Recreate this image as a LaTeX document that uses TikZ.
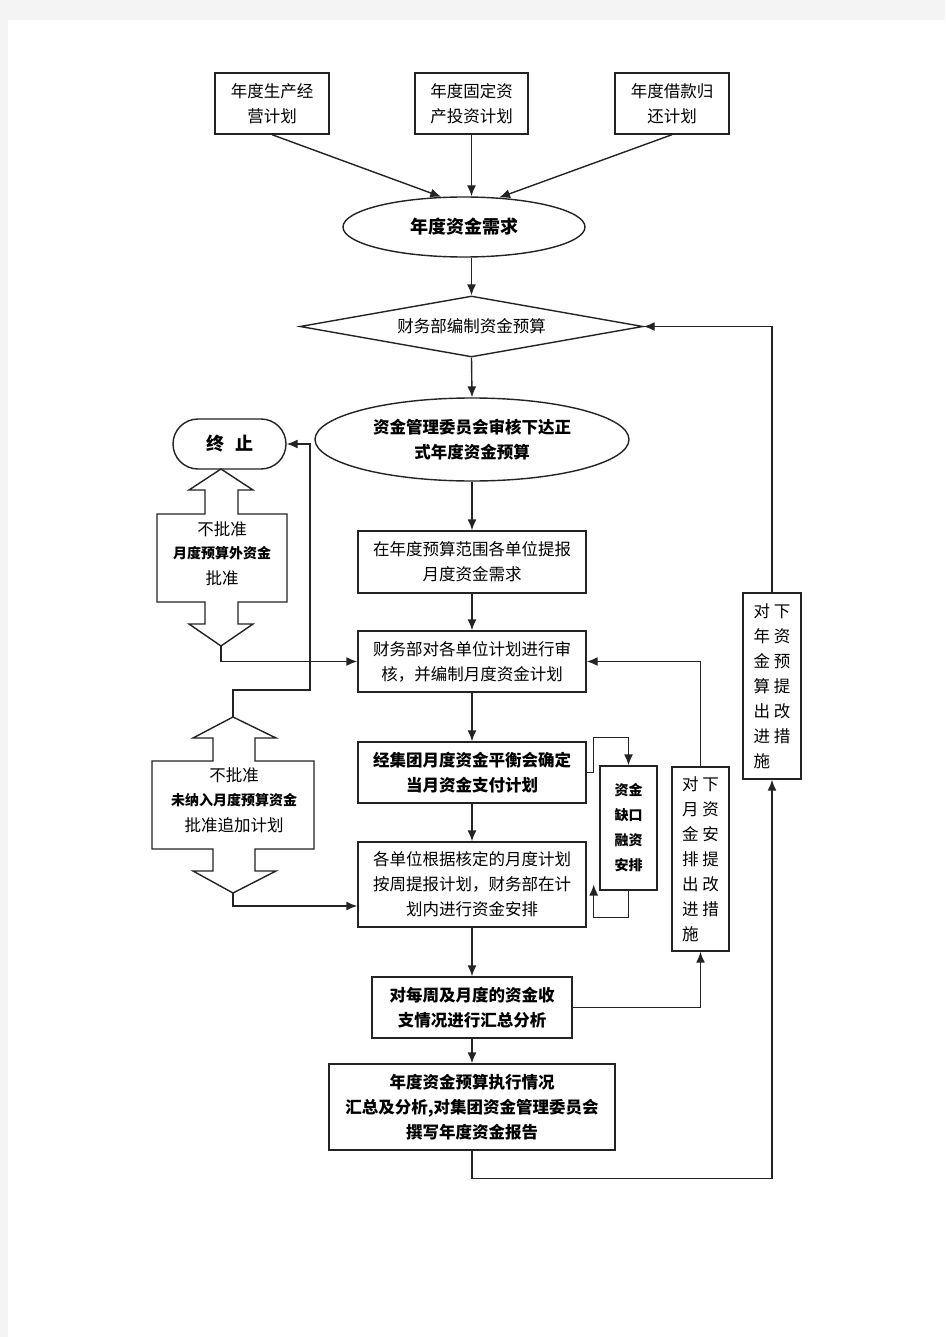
\documentclass[tikz,border=0pt]{standalone}
\usepackage{fontspec}
\setmainfont{Noto Sans CJK SC}
\usetikzlibrary{shapes.geometric,arrows.meta,positioning}
\definecolor{pagegray}{RGB}{244,244,244}
\definecolor{ink}{RGB}{35,35,35}
\newcommand{\bodyfont}{\fontsize{16.5}{25}\selectfont}
\newcommand{\smallbold}{\bfseries\fontsize{14}{25}\selectfont}

\tikzset{
  flowbox/.style={draw=ink,line width=1.4pt,rectangle,inner sep=0pt,align=center,font=\bodyfont},
  boldbox/.style={flowbox,font=\bodyfont\bfseries},
  vbox/.style={flowbox,align=left},
  oval/.style={draw=ink,line width=1.4pt,ellipse,inner sep=0pt,align=center},
  decide/.style={draw=ink,line width=1.4pt,diamond,aspect=5.62,inner sep=0pt,font=\bodyfont},
  stopbox/.style={draw=ink,line width=1.4pt,rectangle,rounded corners=25pt,inner sep=0pt},
  conn/.style={draw=ink,line width=1.4pt,->},
  fatarrow/.style={draw=ink,line width=1.4pt,fill=white}
}

\begin{document}
\begin{tikzpicture}[x=1pt,y=-1pt,>={Latex[length=11pt,width=9pt]}]
\useasboundingbox (0,0) rectangle (945,1337);
\fill[pagegray] (0,0) rectangle (945,1337);
\fill[white] (8,20) rectangle (945,1337);

% plans
\node[flowbox,minimum width=114pt,minimum height=61pt] (plan1) at (272,103.5) {年度生产经\\营计划};
\node[flowbox,minimum width=113pt,minimum height=61pt] (plan2) at (471.5,103.5) {年度固定资\\产投资计划};
\node[flowbox,minimum width=114pt,minimum height=61pt] (plan3) at (672,103.5) {年度借款归\\还计划};

% main column
\node[oval,minimum width=242pt,minimum height=60pt,font=\fontsize{18}{25}\selectfont\bfseries] (need) at (464,227) {年度资金需求};
\node[decide,minimum width=343pt,minimum height=61pt] (budget) at (471.5,326.5) {财务部编制资金预算};
\node[oval,minimum width=314pt,minimum height=83pt,font=\bodyfont\bfseries] (committee) at (472,439.5) {资金管理委员会审核下达正\\式年度资金预算};
\node[flowbox,minimum width=228pt,minimum height=62pt] (monthneed) at (472,562) {在年度预算范围各单位提报\\月度资金需求};
\node[flowbox,minimum width=228pt,minimum height=61pt] (review) at (472,661.5) {财务部对各单位计划进行审\\核，并编制月度资金计划};
\node[boldbox,minimum width=228pt,minimum height=61pt] (balance) at (472,772.5) {经集团月度资金平衡会确定\\当月资金支付计划};
\node[flowbox,minimum width=228pt,minimum height=85pt] (weekly) at (472,884.5) {各单位根据核定的月度计划\\按周提报计划，财务部在计\\划内进行资金安排};
\node[boldbox,minimum width=200pt,minimum height=61pt] (summary) at (472,1007.5) {对每周及月度的资金收\\支情况进行汇总分析};
\node[boldbox,minimum width=286pt,minimum height=86pt] (annual) at (472,1107) {年度资金预算执行情况\\汇总及分析,对集团资金管理委员会\\撰写年度资金报告};

% side boxes
\node[flowbox,minimum width=57pt,minimum height=124pt,font=\smallbold] (gap) at (628.5,828) {资金\\缺口\\融资\\安排};
\node[vbox,minimum width=57pt,minimum height=184pt] (monthfix) at (700.5,859) {对 下\\月 资\\金 安\\排 提\\出 改\\进 措\\施};
\node[vbox,minimum width=58pt,minimum height=186pt] (yearfix) at (772,686) {对 下\\年 资\\金 预\\算 提\\出 改\\进 措\\施};
\node[stopbox,minimum width=113pt,minimum height=50pt,font=\fontsize{18}{25}\selectfont\bfseries] (stop) at (229.5,444) {终\hspace{11pt}止};

% two-way block arrows
\draw[fatarrow] (221,469) coordinate (b1up) -- (253,490) -- (238,490) -- (238,514) -- (287,514) -- (287,602)
  -- (238,602) -- (238,624) -- (253,624) -- (221,646) coordinate (b1down) -- (189,624) -- (205,624)
  -- (205,602) -- (157,602) -- (157,514) -- (205,514) -- (205,490) -- (189,490) -- cycle;
\node[font=\bodyfont] (b1a) at (222,529) {不批准};
\node[font=\smallbold] (b1b) at (222,553) {月度预算外资金};
\node[font=\bodyfont] (b1c) at (222,578) {批准};

\draw[fatarrow] (233,717) coordinate (b2up) -- (276,738) -- (255,738) -- (255,761) -- (314,761) -- (314,849)
  -- (255,849) -- (255,871) -- (276,871) -- (233,893) coordinate (b2down) -- (193,871) -- (213,871)
  -- (213,849) -- (152,849) -- (152,761) -- (213,761) -- (213,738) -- (193,738) -- cycle;
\node[font=\bodyfont] (b2a) at (234,775) {不批准};
\node[font=\smallbold] (b2b) at (234,800) {未纳入月度预算资金};
\node[font=\bodyfont] (b2c) at (234,825) {批准追加计划};

% connectors
\draw[conn] (plan1.south) -- (need.127);
\draw[conn] (plan2.south) -- (plan2.south |- need.north);
\draw[conn] (plan3.south) -- (need.40);
\draw[conn] (budget.north |- need.south) -- (budget.north);
\draw[conn] (budget.south) -- (committee.north);
\draw[conn] (committee.south) -- (monthneed.north);
\draw[conn] (monthneed) -- (review);
\draw[conn] (review) -- (balance);
\draw[conn] (balance) -- (weekly);
\draw[conn] (weekly) -- (summary);
\draw[conn] (summary) -- (annual);

\draw[conn] (balance.east) -- ++(7,0) |- ([yshift=28pt]gap.north) -- (gap.north);
\draw[conn] (gap.south) -- ++(0,27) -| ([xshift=7pt]weekly.east);
\draw[conn] (summary.east) -| (monthfix.south);
\draw[conn] (monthfix.north) |- (review.east);
\draw[conn] (annual.south) -- ++(0,28) -| (yearfix.south);
\draw[conn] (yearfix.north) |- (budget.east);

\draw[conn] (b2up) -- ++(0,-27) -- ++(77,0) |- (stop.east);
\draw[conn] (b1down) |- (review.west);
\draw[conn] (b2down) |- ([yshift=-21.5pt]weekly.west);
\end{tikzpicture}
\end{document}
